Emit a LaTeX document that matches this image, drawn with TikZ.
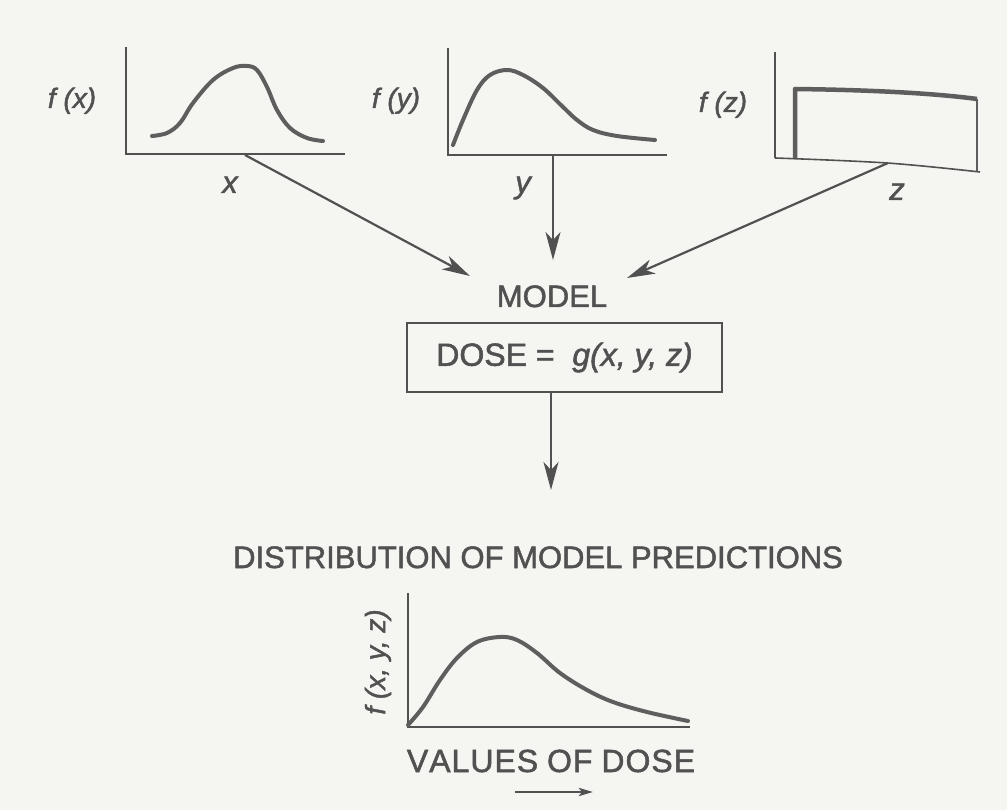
\documentclass[tikz,border=0pt]{standalone}
\usepackage{fontspec}
\setmainfont{Liberation Sans}[FakeBold=1.6]
\usetikzlibrary{arrows.meta}
\definecolor{ink}{HTML}{515151}
\definecolor{curvecol}{HTML}{5E5E5E}
\definecolor{paper}{HTML}{F5F5F2}
\tikzset{
  axis/.style={draw=ink, line width=1.6pt},
  curve/.style={draw=curvecol, line width=4pt, line cap=round, line join=round},
  conn/.style={draw=ink, line width=2.2pt, -{Stealth[length=28pt,width=15pt,inset=8pt]}},
  lbl/.style={text=ink, inner sep=0pt, font=\fontsize{28}{32}\selectfont\itshape},
  var/.style={text=ink, inner sep=0pt, font=\fontsize{31}{34}\selectfont\itshape},
  title/.style={text=ink, inner sep=0pt, font=\fontsize{31}{34}\selectfont},
  modelbox/.style={draw=ink, line width=2pt, text=ink, inner sep=0pt,
    minimum width=315pt, minimum height=69pt, font=\fontsize{32}{36}\selectfont}
}
\begin{document}
\begin{tikzpicture}[x=1pt, y=-1pt]
  \fill[paper] (0,0) rectangle (1007,810);
  \useasboundingbox (0,0) rectangle (1007,810);

  % ---- plot f(x)
  \draw[axis] (126,47) -- (126,154) -- (345,154);
  \draw[curve] plot[smooth, tension=0.6] coordinates {(152,136) (167,133) (180,123) (193,103) (213,80) (233,68) (247,66) (257,70) (267,87) (277,110) (290,128) (307,138) (323,141)};
  \node[lbl, anchor=base] (fx) at (72,108) {f (x)};
  \node[var, anchor=base] (lx) at (230,193) {x};

  % ---- plot f(y)
  \draw[axis] (448,48) -- (448,155) -- (667,155);
  \draw[curve] plot[smooth, tension=0.6] coordinates {(453,145) (463,120) (477,90) (490,75) (507,70) (523,75) (543,88) (563,107) (577,120) (593,130) (617,136) (655,140)};
  \node[lbl, anchor=base] (fy) at (396,108) {f (y)};
  \node[var, anchor=base] (ly) at (523,193) {y};

  % ---- plot f(z)
  \draw[axis] (775,52) -- (775,158);
  \draw[axis] plot[smooth, tension=0.6] coordinates {(775,158) (887,163) (980,172)};
  \draw[draw=curvecol, line width=4.5pt, line join=round] (795,158) -- (795,89) .. controls (880,90) and (940,94) .. (977,99);
  \draw[draw=curvecol, line width=2pt] (977,99) -- (977,171);
  \node[lbl, anchor=base] (fz) at (723,112) {f (z)};
  \node[var, anchor=base] (lz) at (897,200) {z};

  % ---- connectors into the model
  \coordinate (xo) at (245,155);
  \coordinate (yo) at (553,155);
  \coordinate (zo) at (888,163);
  \coordinate (xt) at (470,276);
  \coordinate (yt) at (553,260);
  \coordinate (zt) at (627,278);
  \draw[conn] (xo) -- (xt);
  \draw[conn] (yo) -- (yt);
  \draw[conn] (zo) -- (zt);

  % ---- model
  \node[title, anchor=base] (mtitle) at (552,307) {MODEL};
  \node[modelbox] (model) at (564.5,357.5) {DOSE =\ \ \textit{g(x, y, z)}};
  \coordinate (pt) at (551,490);
  \draw[conn] (pt |- model.south) -- (pt);

  % ---- distribution
  \node[title, anchor=base] (dist) at (538,568) {DISTRIBUTION OF MODEL PREDICTIONS};
  \draw[axis] (408,593) -- (408,727) -- (690,727);
  \draw[curve] plot[smooth, tension=0.6] coordinates {(408,725) (423,707) (440,680) (457,658) (477,642) (500,637) (517,640) (537,653) (560,673) (587,690) (613,702) (647,712) (688,721)};
  \node[lbl, rotate=90] (fxyz) at (378,662) {f (x, y, z)};
  \node[title, anchor=base, font=\fontsize{32}{36}\selectfont] (vals) at (551,772) {V\kern1pt A\kern1pt L\kern1pt U\kern1pt E\kern1pt S O\kern1pt F D\kern1pt O\kern1pt S\kern1pt E};
  \coordinate (sa) at (515,792);
  \coordinate (sb) at (593,792);
  \draw[draw=ink, line width=2.8pt, -{Stealth[length=14pt,width=8pt,inset=3pt]}] (sa) -- (sb);
\end{tikzpicture}
\end{document}
